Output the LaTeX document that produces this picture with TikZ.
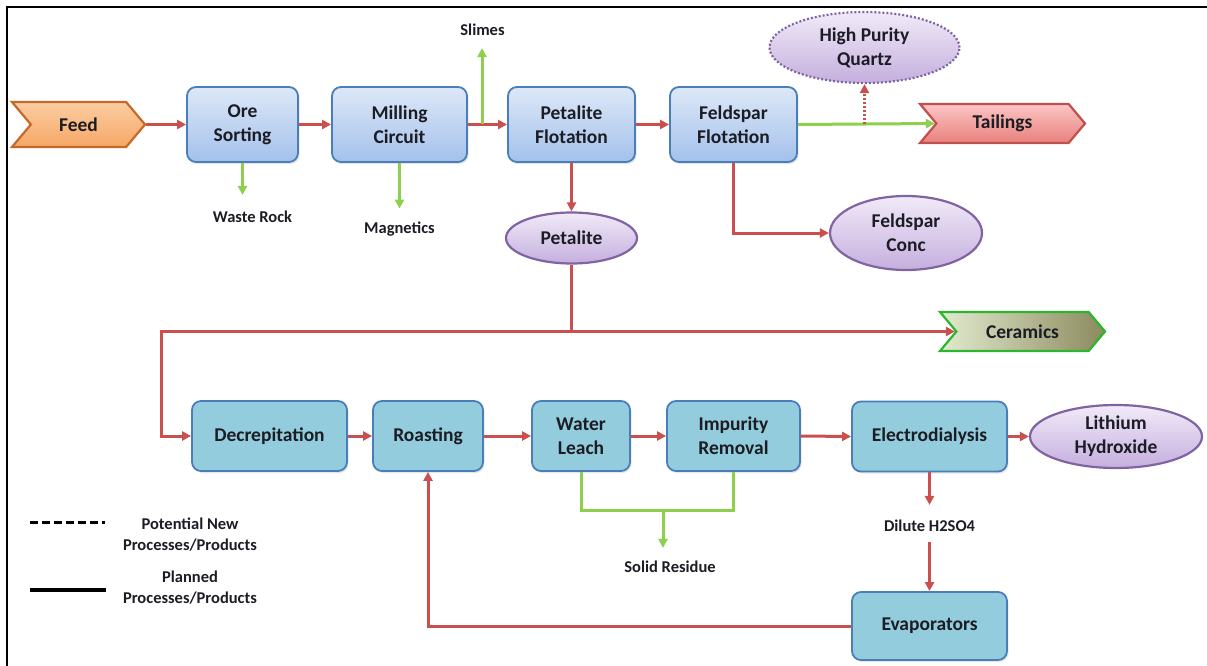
\documentclass[tikz,border=0pt]{standalone}
\usepackage{fontspec}
\setmainfont{Carlito}
\usetikzlibrary{arrows.meta,shapes.geometric,shapes.symbols,shadows}
\definecolor{flowred}{HTML}{C9504E}
\definecolor{flowgreen}{HTML}{8ED04E}
\definecolor{boxline}{HTML}{4A7EBB}
\definecolor{procTop}{HTML}{DDE8F8}
\definecolor{procBot}{HTML}{A3C1EB}
\definecolor{leachFill}{HTML}{93CDDD}
\definecolor{prodLine}{HTML}{8064A2}
\definecolor{prodTop}{HTML}{F1EAF8}
\definecolor{prodBot}{HTML}{C5AFDE}
\definecolor{feedLine}{HTML}{C46A2A}
\definecolor{feedTop}{HTML}{FBCDA2}
\definecolor{feedBot}{HTML}{F6A766}
\definecolor{tailLine}{HTML}{C0504D}
\definecolor{tailTop}{HTML}{FBC6C4}
\definecolor{tailBot}{HTML}{E8807D}
\definecolor{cerLine}{HTML}{2DB52D}
\definecolor{cerLeft}{HTML}{E2EBCF}
\definecolor{cerRight}{HTML}{8C8A5E}
\definecolor{inkDark}{HTML}{1C1C24}
\tikzset{
  box/.style={
    shape = rectangle,
    rounded corners = 9pt,
    draw = boxline,
    line width = 1.8pt,
    align = center,
    text = inkDark,
    drop shadow = {opacity=0.2, shadow xshift=1.5pt, shadow yshift=-2pt},
    font = \fontsize{19.5}{24}\selectfont\bfseries
  },
  proc/.style={
    box,
    top color = procTop,
    bottom color = procBot,
    minimum height = 75pt
  },
  leach/.style={
    box,
    fill = leachFill,
    minimum height = 70pt
  },
  prod/.style={
    shape = ellipse,
    draw = prodLine,
    line width = 2.2pt,
    inner sep = 0pt,
    top color = prodTop,
    bottom color = prodBot,
    align = center,
    text = inkDark,
    font = \fontsize{19.5}{24}\selectfont\bfseries
  },
  tag/.style={
    shape = signal,
    signal from = west,
    signal to = east,
    signal pointer angle = 100,
    line width = 2.2pt,
    inner sep = 0pt,
    text = inkDark,
    font = \fontsize{19.5}{24}\selectfont\bfseries
  },
  note/.style={
    inner sep = 0pt,
    align = center,
    text = inkDark,
    font = \fontsize{16.5}{21}\selectfont\bfseries
  },
}
\tikzset{
  redflow/.style={
    draw = flowred,
    line width = 3pt,
    -{Triangle[length=9pt,width=9pt]}
  },
  greenflow/.style={
    draw = flowgreen,
    line width = 3pt,
    -{Triangle[length=9pt,width=9pt]}
  },
  greenline/.style={
    draw = flowgreen,
    line width = 3pt
  },
}
\begin{document}
\begin{tikzpicture}[x=1pt, y=-1pt]
\useasboundingbox (0,0) rectangle (1207,666);
\draw[line width=2pt] (1207,7) -- (7,7) -- (7,666);
% concentrator
\node[tag, draw=feedLine, top color=feedTop, bottom color=feedBot,
      minimum width=133pt, minimum height=45pt] (feed) at (78.5,124.5) {Feed};
\node[proc, minimum width=111pt] (ore) at (242.5,124.5) {Ore\\Sorting};
\node[proc, minimum width=135pt] (mill) at (399.5,124.5) {Milling\\Circuit};
\node[proc, minimum width=127pt] (petflot) at (571.5,124.5) {Petalite\\Flotation};
\node[proc, minimum width=127pt] (feldflot) at (733.5,124.5) {Feldspar\\Flotation};
\node[tag, draw=tailLine, top color=tailTop, bottom color=tailBot,
      minimum width=165pt, minimum height=39pt] (tail) at (1002.5,123.5) {Tailings};
\node[prod, minimum width=131pt, minimum height=51pt] (pet) at (571.5,238) {Petalite};
\node[prod, minimum width=152pt, minimum height=74pt] (conc) at (906,233) {Feldspar\\Conc};
\node[prod, dash pattern=on 2pt off 2pt, minimum width=190pt, minimum height=71pt]
      (hpq) at (864.5,47.5) {High Purity\\Quartz};
\node[note] (slimes) at (482.5,30) {Slimes};
\node[note] (waste) at (252.5,217) {Waste Rock};
\node[note] (mag) at (399.5,229) {Magnetics};
\coordinate (sj) at (482,124.5);
\coordinate (hq) at (864.5,124.5);
\draw[redflow] (feed.east) -- (ore.west);
\draw[redflow] (ore.east) -- (mill.west);
\draw[redflow] (mill.east) -- (petflot.west);
\draw[redflow] (petflot.east) -- (feldflot.west);
\draw[greenflow, shorten >=12pt] (sj) -- (sj |- slimes.south);
\draw[greenflow, shorten >=16pt] (ore.south) -- (ore.south |- waste.north);
\draw[greenflow, shorten >=13pt] (mill.south) -- (mag.north);
\draw[redflow] (petflot.south) -- (pet.north);
\draw[redflow] (feldflot.south) |- (conc.west);
\draw[greenflow] (feldflot.east) -- (tail.west);
\draw[redflow, dash pattern=on 2pt off 2pt] (hq) -- (hpq.south);
% hydromet plant
\node[tag, draw=cerLine, left color=cerLeft, right color=cerRight,
      minimum width=165pt, minimum height=39pt] (cer) at (1022.5,331.5) {Ceramics};
\node[leach, minimum width=155pt] (decrep) at (269.5,436) {Decrepitation};
\node[leach, minimum width=110pt] (roast) at (428,436) {Roasting};
\node[leach, minimum width=98pt] (wl) at (581,436) {Water\\Leach};
\node[leach, minimum width=133pt] (ir) at (733.5,436) {Impurity\\Removal};
\node[leach, minimum width=155pt] (ed) at (929.5,436.5) {Electrodialysis};
\node[prod, minimum width=172pt, minimum height=63pt] (lioh) at (1116,436.5) {Lithium\\Hydroxide};
\node[leach, minimum width=155pt, minimum height=68pt] (evap) at (929.5,626) {Evaporators};
\node[note] (dilute) at (929.5,526) {Dilute H2SO4};
\node[note] (residue) at (670,567) {Solid Residue};
\coordinate (res) at (663,510);
\draw[redflow] (pet.south) |- (cer.west);
\draw[redflow] (pet.south |- cer.west) -| ([xshift=-30pt]decrep.west) |- (decrep.west);
\draw[redflow] (decrep.east) -- (roast.west);
\draw[redflow] (roast.east) -- (wl.west);
\draw[redflow] (wl.east) -- (ir.west);
\draw[redflow] (ir.east) -- (ed.west);
\draw[redflow] (ed.east) -- (lioh.west);
\draw[redflow, shorten >=15pt] (ed.south) -- (dilute.north);
\draw[redflow, shorten <=10pt] (dilute.south) -- (evap.north);
\draw[redflow] (evap.west) -| (roast.south);
\draw[greenline] (wl.south) |- (res) -| (ir.south);
\draw[greenflow, shorten >=13pt] (res) -- (residue.north -| res);
% legend
\draw[line width=3pt, dash pattern=on 8pt off 4pt] (30,522) -- (105,522);
\draw[line width=3.5pt] (30,590) -- (106,590);
\node[note] (potential) at (190,534.5) {Potential New\\Processes/Products};
\node[note] (planned) at (190,587.5) {Planned\\Processes/Products};
\end{tikzpicture}
\end{document}
